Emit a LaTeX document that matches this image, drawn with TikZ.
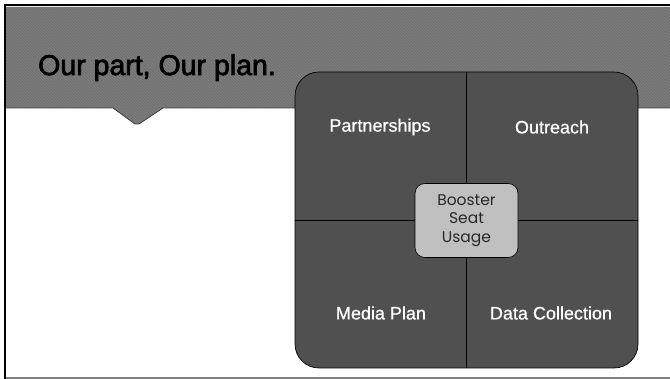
\documentclass[tikz,border=0pt]{standalone}
\usepackage{fontspec}
\setmainfont{Liberation Sans}
\newfontfamily\gothic{Poppins}
\newfontfamily\titlefont{Liberation Sans}[FakeBold=2.6]
\newfontfamily\labelfont{Liberation Sans}[FakeBold=0.6]
\usetikzlibrary{patterns}
\definecolor{bandgray}{RGB}{114,114,114}
\definecolor{stripe}{RGB}{130,130,130}
\definecolor{boxgray}{RGB}{80,80,80}
\definecolor{centgray}{RGB}{192,192,192}
\definecolor{textdark}{RGB}{40,40,40}
\definecolor{bandedge}{RGB}{60,60,60}
\begin{document}
\begin{tikzpicture}[x=1pt,y=-1pt,
  quadlabel/.style={text=white, font=\labelfont\fontsize{18}{21}\selectfont, inner sep=0pt},
  planbox/.style={draw=black, fill=boxgray, rounded corners=24pt, minimum width=343pt, minimum height=296pt, inner sep=0pt, line width=0.7pt},
  corebox/.style={draw=black, fill=centgray, rounded corners=10pt, minimum width=103pt, minimum height=74pt, inner sep=0pt, align=center, text=textdark, font=\gothic\fontsize{15.5}{18.5}\selectfont, line width=0.6pt}]
\useasboundingbox (0,0) rectangle (670,379);
% header band with notch
\path[fill=bandgray] (6,7) -- (670,7) -- (670,108) -- (163,108) -- (139,124) -- (135,124) -- (113,108) -- (6,108) -- cycle;
\path[pattern=north west lines, pattern color=stripe] (6,7) -- (670,7) -- (670,108) -- (163,108) -- (139,124) -- (135,124) -- (113,108) -- (6,108) -- cycle;
\draw[bandedge, line width=0.8pt] (6,108) -- (113,108) -- (135,124) -- (139,124) -- (163,108) -- (670,108);
% frame
\draw[gray, line width=1.2pt] (5,378) -- (670,378);
\draw[black, line width=2pt] (5,379) -- (5,5) -- (670,5);
% title
\node[anchor=base west, inner sep=0pt, font=\titlefont\fontsize{28.5}{32}\selectfont] (title) at (38,75) {Our part, Our plan.};
% plan box
\node[planbox] (plan) at (466.5,220) {};
\draw[black, line width=0.7pt] (plan.north) -- (plan.south);
\draw[black, line width=0.7pt] (plan.west) -- (plan.east);
\node[quadlabel] (pa) at (380,127) {Partnerships};
\node[quadlabel] (ou) at (552,127) {Outreach};
\node[quadlabel] (mp) at (381,313) {Media Plan};
\node[quadlabel] (dc) at (551,313) {Data Collection};
\node[corebox] (core) at (466.5,220.5) {Booster\\Seat\\Usage};
\end{tikzpicture}
\end{document}
